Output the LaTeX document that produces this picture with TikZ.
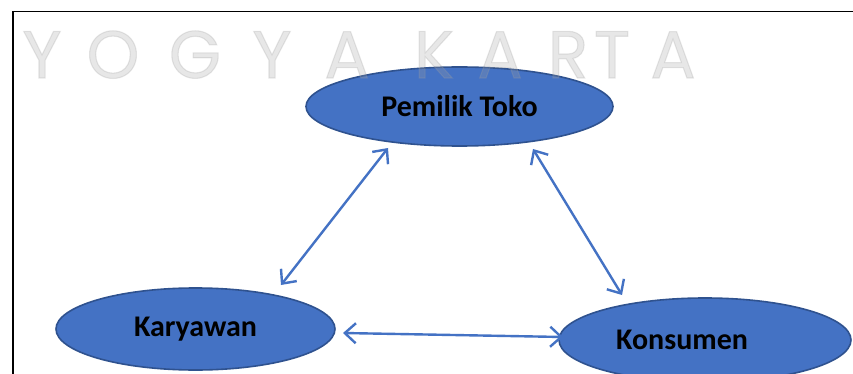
\documentclass[tikz,border=0pt]{standalone}
\usepackage{fontspec}
\setmainfont{Carlito}
\newfontfamily\wmfont[FakeBold=1.6]{Poppins}
\usetikzlibrary{arrows.meta,shapes.geometric}
\definecolor{efill}{HTML}{4472C4}
\definecolor{edraw}{HTML}{2F528F}
\definecolor{wmgray}{RGB}{160,160,160}
\tikzset{
  ell/.style={ellipse, draw=edraw, fill=efill, line width=1.6pt, inner sep=0pt},
  lbl/.style={font=\fontsize{30}{34}\selectfont\bfseries, text=black},
  arr/.style={draw=efill, line width=2.4pt, {Straight Barb[length=11pt,width=20pt]}-{Straight Barb[length=11pt,width=20pt]}},
  wm/.style={font=\wmfont\fontsize{67}{70}\selectfont, text=wmgray, text opacity=0.25, inner sep=0pt, anchor=base}
}
\begin{document}
\begin{tikzpicture}[x=1pt,y=-1pt]
\useasboundingbox (0,0) rectangle (853,374);
\clip (0,0) rectangle (853,374);
\fill[white] (0,0) rectangle (853,374);
% frame
\draw[line width=1.5pt, black] (13,380) -- (13,11.5) -- (860,11.5);
% ellipses
\node[ell, minimum width=307pt, minimum height=79pt] (pt) at (459.5,106.5) {};
\node[lbl] (ptt) at (pt.center) {Pemilik Toko};
\node[ell, minimum width=279pt, minimum height=82pt] (ky) at (195.5,329) {};
\node[lbl] (kyt) at (ky.center) {Karyawan};
\node[ell, minimum width=292pt, minimum height=84pt] (ks) at (705,340) {};
\node[lbl] (kst) at (682,340) {Konsumen};
% arrows
\draw[arr] ([shift={(-71.5,41.5)}]pt.center) -- ([shift={(85.5,-44)}]ky.center);
\draw[arr] ([shift={(73.5,42.5)}]pt.center) -- ([shift={(-83,-45)}]ks.center);
\draw[arr] ([shift={(147.5,4)}]ky.center) -- ([shift={(-142,-3)}]ks.center);
% watermark
\node[wm] (w1) at (42,78) {Y};
\node[wm] (w2) at (113,78) {O};
\node[wm] (w3) at (195,78) {G};
\node[wm] (w4) at (272,78) {Y};
\node[wm] (w5) at (347,78) {A};
\node[wm] (w6) at (434,78) {K};
\node[wm] (w7) at (500,78) {A};
\node[wm] (w8) at (568,78) {R};
\node[wm] (w9) at (612,78) {T};
\node[wm] (w10) at (673,78) {A};
\end{tikzpicture}
\end{document}
